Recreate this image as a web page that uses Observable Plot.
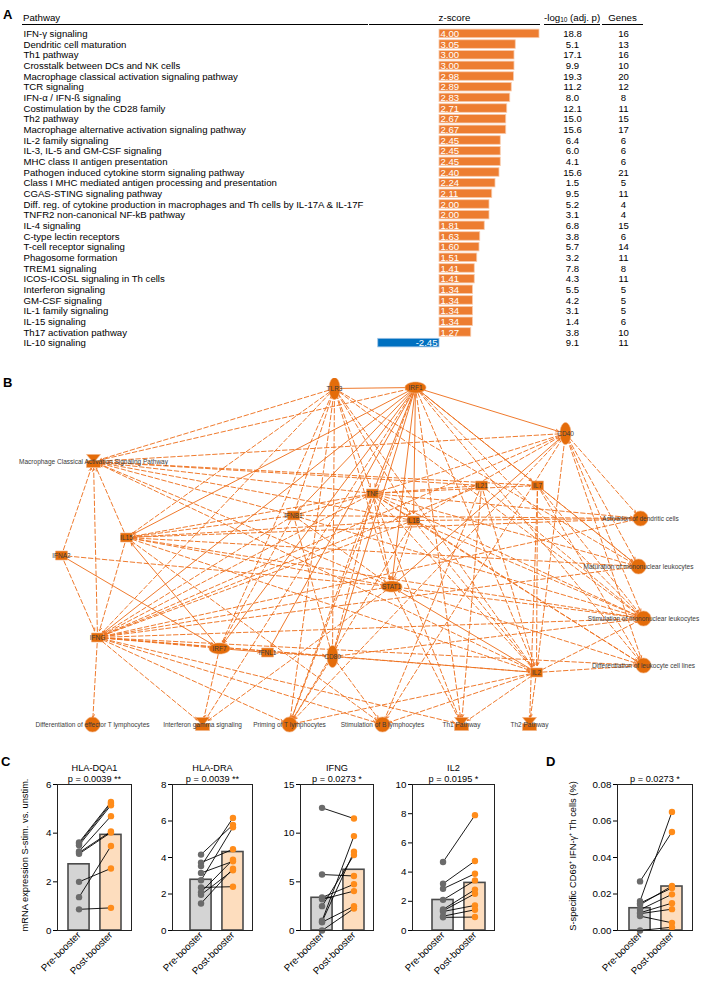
<!DOCTYPE html>
<html><head><meta charset="utf-8">
<script src="https://cdn.jsdelivr.net/npm/d3@7"></script>
<script src="https://cdn.jsdelivr.net/npm/@observablehq/plot@0.6"></script>
<style>
body{margin:0;background:#fff;font-family:"Liberation Sans",Arial,sans-serif;}
#root{position:relative;width:701px;height:990px;overflow:hidden;background:#fff;}
.plabel{position:absolute;font-weight:bold;font-size:13px;line-height:13px;}
.hdr{position:absolute;top:12px;height:12px;line-height:12px;font-size:9.7px;border-bottom:1.3px solid #000;white-space:nowrap;}
.hdr sub{font-size:6.5px;vertical-align:-1px;line-height:0;}
.ylab{position:absolute;white-space:nowrap;font-size:9.3px;transform:translate(-50%,-50%) rotate(-90deg);}
</style></head><body><div id="root"></div><script>
// ---------- Panel A data ----------
const pathways = ["IFN-γ signaling","Dendritic cell maturation","Th1 pathway","Crosstalk between DCs and NK cells","Macrophage classical activation signaling pathway","TCR signaling","IFN-α / IFN-ß signaling","Costimulation by the CD28 family","Th2 pathway","Macrophage alternative activation signaling pathway","IL-2 family signaling","IL-3, IL-5 and GM-CSF signaling","MHC class II antigen presentation","Pathogen induced cytokine storm signaling pathway","Class I MHC mediated antigen processing and presentation","CGAS-STING signaling pathway","Diff. reg. of cytokine production in macrophages and Th cells by IL-17A & IL-17F","TNFR2 non-canonical NF-kB pathway","IL-4 signaling","C-type lectin receptors","T-cell receptor signaling","Phagosome formation","TREM1 signaling","ICOS-ICOSL signaling in Th cells","Interferon signaling","GM-CSF signaling","IL-1 family signaling","IL-15 signaling","Th17 activation pathway","IL-10 signaling"];
const zScores = [4.00,3.05,3.00,3.00,2.98,2.89,2.83,2.71,2.67,2.67,2.45,2.45,2.45,2.40,2.24,2.11,2.00,2.00,1.81,1.63,1.60,1.51,1.41,1.41,1.34,1.34,1.34,1.34,1.27,-2.45];
const negLog10P = [18.8,5.1,17.1,9.9,19.3,11.2,8.0,12.1,15.0,15.6,6.4,6.0,4.1,15.6,1.5,9.5,5.2,3.1,6.8,3.8,5.7,3.2,7.8,4.3,5.5,4.2,3.1,1.4,3.8,9.1];
const geneCounts = [16,13,16,10,20,12,8,11,15,17,6,6,6,21,5,11,4,4,15,6,14,11,8,11,5,5,5,6,10,11];
const tableHeaders = ["Pathway","z-score","-log<sub>10</sub> (adj. p)","Genes"];

// ---------- Panel B data (network layout) ----------
const nodeIds = ["TLR3","IRF1","CD40","MacPath","IL15","IFNA2","IFNB1","TNF","IL21","IL7","IL1B","STAT1","IFNG","IRF7","IFNL1","CD80","IL2","ActDC","MatMono","StimMono","DiffLeuk","Th2","Th1","StimB","PrimT","IFNgSig","DiffEffT"];
const nodeLabels = ["TLR3","IRF1","CD40","Macrophage Classical Activation Signaling Pathway","IL15","IFNA2","IFNB1","TNF","IL21","IL7","IL1B","STAT1","IFNG","IRF7","IFNL1","CD80","IL2","Activation of dendritic cells","Maturation of mononuclear leukocytes","Stimulation of mononuclear leukocytes","Differentiation of leukocyte cell lines","Th2 Pathway","Th1 Pathway","Stimulation of B lymphocytes","Priming of T lymphocytes","Interferon gamma signaling","Differentiation of effector T lymphocytes"];
const nodeX = [334,415,565,93,126,61,293,372,481,537,413,391,97,219,267,332,536,640,638,643,643,529,461,382,289,202,92];
const nodeY = [9,8,54,82,158,176,136,114,106,106,141,207,258,269,273,277,293,139,187,239,286,345,345,345,345,345,345];
const nodeKinds = ["vEll","hEll","vEll","path","sq","sq","sq","sq","sq","sq","sq","hEll","sq","hEll","sq","vEll","sq","fn","fn","fn","fn","path","path","fn","fn","path","fn"];
const solidLinks = [["TLR3","IRF1"],["IRF1","CD40"],["IRF1","IL7"],["IRF1","IL1B"],["IRF1","TNF"],["IRF1","IFNB1"],["IRF1","IL15"],["IRF1","STAT1"],["IRF1","IRF7"],["IRF1","IFNL1"],["IRF1","CD80"],["IRF1","IFNG"],["IRF7","IFNL1"],["IFNA2","IRF7"],["IRF7","IL15"],["STAT1","CD40"],["IL2","STAT1"]];
const dashedLinks = [
 ["TLR3","MacPath"],["TLR3","IFNB1"],["TLR3","TNF"],["TLR3","STAT1"],["TLR3","CD80"],["TLR3","IRF7"],["TLR3","IFNG"],["TLR3","IL15"],["TLR3","IL1B"],["TLR3","MatMono"],["TLR3","StimMono"],["TLR3","PrimT"],["TLR3","IL2"],
 ["IRF1","MatMono"],["IRF1","StimMono"],["IRF1","DiffLeuk"],["IRF1","IL2"],["IRF1","Th1"],["IRF1","PrimT"],["IRF1","IFNgSig"],["IRF1","MacPath"],
 ["CD40","ActDC"],["CD40","MatMono"],["CD40","StimMono"],["CD40","DiffLeuk"],["CD40","IL2"],["CD40","MacPath"],["CD40","IFNG"],["CD40","TNF"],["CD40","StimB"],["CD40","PrimT"],["CD40","IL1B"],
 ["IFNA2","MacPath"],["IFNA2","STAT1"],["IFNA2","IFNG"],
 ["IL15","MacPath"],["IL15","IFNG"],["IL15","ActDC"],["IL15","MatMono"],["IL15","StimMono"],["IL15","IL2"],["IL15","StimB"],["IL15","STAT1"],
 ["IFNB1","IL15"],["IFNB1","IFNG"],["IFNB1","MacPath"],["IFNB1","STAT1"],["IFNB1","StimMono"],["IFNB1","ActDC"],["IFNB1","IRF7"],["IFNB1","CD80"],
 ["TNF","IL21"],["TNF","IL7"],["TNF","IL1B"],["TNF","STAT1"],["TNF","IFNB1"],["TNF","IL15"],["TNF","IFNG"],["TNF","MacPath"],["TNF","ActDC"],["TNF","MatMono"],["TNF","StimMono"],["TNF","DiffLeuk"],["TNF","CD80"],["TNF","IL2"],["TNF","Th1"],["TNF","PrimT"],
 ["IL21","MacPath"],["IL21","IFNG"],["IL21","StimMono"],["IL21","StimB"],["IL21","Th1"],["IL21","IL2"],
 ["IL7","MacPath"],["IL7","StimMono"],["IL7","DiffLeuk"],["IL7","MatMono"],["IL7","IL2"],["IL7","Th2"],
 ["IL1B","ActDC"],["IL1B","MacPath"],["IL1B","IL15"],["IL1B","IFNG"],["IL1B","STAT1"],["IL1B","StimMono"],["IL1B","IL2"],["IL1B","PrimT"],["IL1B","DiffLeuk"],
 ["STAT1","MacPath"],["STAT1","IFNgSig"],["STAT1","Th1"],["STAT1","StimMono"],["STAT1","DiffLeuk"],
 ["IFNG","MacPath"],["IFNG","DiffEffT"],["IFNG","IFNgSig"],["IFNG","PrimT"],["IFNG","IRF7"],["IFNG","STAT1"],["IFNG","ActDC"],["IFNG","StimMono"],["IFNG","DiffLeuk"],["IFNG","Th1"],["IFNG","IL2"],["IFNG","MatMono"],["IFNG","CD80"],["IFNG","StimB"],
 ["IRF7","IFNgSig"],["IFNL1","CD80"],
 ["CD80","PrimT"],["CD80","StimMono"],["CD80","IL2"],["CD80","StimB"],
 ["IL2","DiffLeuk"],["IL2","Th2"],["IL2","Th1"],["IL2","StimB"],["IL2","MacPath"],["IL2","PrimT"],["IL2","StimMono"]
];

// ---------- Panel C / D data ----------
const groups = ["Pre-booster","Post-booster"];
const dqa1Pre = [3.62,3.57,3.50,3.25,3.20,3.15,2.00,1.37,0.87];
const dqa1Post = [5.28,5.22,5.15,4.70,4.07,4.03,2.55,3.47,0.93];
const dqa1Means = [2.72,3.93];
const draPre = [4.16,3.72,3.53,3.15,2.75,2.36,2.10,1.96,1.48];
const draPost = [5.79,4.45,6.17,3.79,5.66,2.40,3.88,3.30,3.39];
const draMeans = [2.78,4.30];
const ifngPre = [12.6,5.75,3.40,3.20,2.50,1.00,0.90,0.85,0.00];
const ifngPost = [11.5,5.60,4.75,4.05,7.75,9.70,8.10,2.50,2.25];
const ifngMeans = [3.36,6.24];
const il2Pre = [4.69,3.20,2.86,2.10,1.44,1.35,1.30,0.98,0.90];
const il2Post = [7.90,4.76,3.89,3.43,2.80,2.52,1.72,1.42,0.92];
const il2Means = [2.09,3.26];
const cd69Pre = [0.0269,0.0161,0.0150,0.0141,0.0114,0.0097,0.0092,0.0079,0.0000];
const cd69Post = [0.0540,0.0650,0.0233,0.0244,0.0198,0.0150,0.0117,0.0042,0.0018];
const cd69Means = [0.0122,0.0241];
const panelTitles = ["HLA-DQA1","HLA-DRA","IFNG","IL2",null];
const pValues = ["p = 0.0039 **","p = 0.0039 **","p = 0.0273 *","p = 0.0195 *","p = 0.0273 *"];
const yMaxes = [6,8,15,10,0.08];
const yTicks = [[0,2,4,6],[0,2,4,6,8],[0,5,10,15],[0,2,4,6,8,10],[0,0.02,0.04,0.06,0.08]];

// ---------- helpers ----------
const FONT = "Liberation Sans, Arial, sans-serif";
const root = document.getElementById("root");
function place(el, left, top){ el.style.position="absolute"; el.style.left=left+"px"; el.style.top=top+"px"; root.appendChild(el); return el; }
function div(cls, html, left, top){ const d=document.createElement("div"); d.className=cls; d.innerHTML=html; return place(d,left,top); }

// ---------- Panel A ----------
const rows = pathways.map((p,i)=>({pathway:p, z:zScores[i], p:negLog10P[i], genes:geneCounts[i]}));
const pos = rows.filter(d=>d.z>=0), neg = rows.filter(d=>d.z<0);
const plotA = Plot.plot({
  width:701, height:353, marginTop:27, marginBottom:4, marginLeft:370, marginRight:161,
  style:{fontFamily:FONT, fontSize:"9.6px", background:"transparent", color:"#000"},
  x:{domain:[-2.76,4.04], axis:null},
  y:{domain:pathways, axis:null, padding:0.2, round:false},
  marks:[
    Plot.barX(pos,{x:"z", y:"pathway", fill:"#ED7D31", stroke:"#F8CBAD", strokeWidth:0.8}),
    Plot.barX(neg,{x:"z", y:"pathway", fill:"#0070C0", stroke:"#9DC3E6", strokeWidth:0.8}),
    Plot.text(pos,{x:()=>0, y:"pathway", text:d=>d.z.toFixed(2), textAnchor:"start", dx:1, fill:"#fff"}),
    Plot.text(neg,{x:()=>0, y:"pathway", text:d=>d.z.toFixed(2), textAnchor:"end", dx:-2, fill:"#fff"}),
    Plot.text(rows,{y:"pathway", text:"pathway", frameAnchor:"left", textAnchor:"start", dx:-347}),
    Plot.text(rows,{y:"pathway", text:d=>d.p.toFixed(1), frameAnchor:"right", textAnchor:"middle", dx:32}),
    Plot.text(rows,{y:"pathway", text:d=>String(d.genes), frameAnchor:"right", textAnchor:"middle", dx:83})
  ]
});
place(plotA,0,0);
const hdrBoxes = [[22,345,"left"],[369,171,"center"],[544,56,"center"],[602,41,"center"]];
tableHeaders.forEach((h,i)=>{ const d=div("hdr",h,hdrBoxes[i][0],12); d.style.width=hdrBoxes[i][1]+"px"; d.style.textAlign=hdrBoxes[i][2]; if(i===0) d.style.paddingLeft="1px"; });
div("plabel","A",3,8);

// ---------- Panel B ----------
function ell(rx,ry){ const k=0.5523; return {draw(c){ c.moveTo(rx,0); c.bezierCurveTo(rx,ry*k,rx*k,ry,0,ry); c.bezierCurveTo(-rx*k,ry,-rx,ry*k,-rx,0); c.bezierCurveTo(-rx,-ry*k,-rx*k,-ry,0,-ry); c.bezierCurveTo(rx*k,-ry,rx,-ry*k,rx,0); c.closePath(); }}; }
const symbols = {
  sq:{draw(c){ c.rect(-6,-4.5,12,9); }},
  hEll:ell(10.5,5.5), vEll:ell(5.5,11), fn:ell(7.5,7.5),
  path:{draw(c){ c.moveTo(-7,-7); c.lineTo(7,-7); c.lineTo(2,-1); c.lineTo(7,-1); c.lineTo(7,6); c.lineTo(-7,6); c.lineTo(-7,-1); c.lineTo(-2,-1); c.closePath(); }}
};
const nodes = nodeIds.map((id,i)=>({id, label:nodeLabels[i], x:nodeX[i], y:nodeY[i], kind:nodeKinds[i]}));
const byId = Object.fromEntries(nodes.map(n=>[n.id,n]));
const edgeOpts = {x1:d=>byId[d[0]].x, y1:d=>byId[d[0]].y, x2:d=>byId[d[1]].x, y2:d=>byId[d[1]].y, stroke:"#EE7322", strokeWidth:0.95, headLength:5, headAngle:50, insetStart:6, insetEnd:7};
const nodeMarks = Object.keys(symbols).map(k=>Plot.dot(nodes.filter(n=>n.kind===k),{x:"x", y:"y", symbol:symbols[k], r:5, fill:"#E46C0A", stroke:"#F4B183", strokeWidth:0.6}));
const plotB = Plot.plot({
  width:701, height:356, margin:0,
  style:{fontFamily:FONT, background:"transparent"},
  x:{domain:[0,701], range:[0,701], axis:null},
  y:{domain:[-1,355], range:[0,356], axis:null},
  marks:[
    Plot.arrow(dashedLinks,{...edgeOpts, strokeDasharray:"4.5,2.5"}),
    Plot.arrow(solidLinks,{...edgeOpts}),
    ...nodeMarks,
    Plot.text(nodes,{x:"x", y:"y", text:"label", fontSize:6.5, fill:"#3a3a3a"})
  ]
});
place(plotB,0,378);
div("plabel","B",3,376);

// ---------- Panels C & D ----------
const chartData = [[dqa1Pre,dqa1Post,dqa1Means],[draPre,draPost,draMeans],[ifngPre,ifngPost,ifngMeans],[il2Pre,il2Post,il2Means],[cd69Pre,cd69Post,cd69Means]];
const chartBoxes = [{axis:57,right:131,bar1:68},{axis:172,right:252,bar1:190},{axis:300,right:373,bar1:311},{axis:412,right:494,bar1:432},{axis:617,right:692,bar1:629}];
chartData.forEach(([pre,post,means],i)=>{
  const box = chartBoxes[i];
  const ml=34, mr=6, mt=34, mb=58;
  const width = ml + (box.right-box.axis) + mr;
  const left = box.axis - ml;
  const b0 = box.bar1 - left;
  const pairs = pre.map((v,j)=>({pre:v, post:post[j]}));
  const prePts = pre.map(v=>({g:groups[0], v})), postPts = post.map(v=>({g:groups[1], v}));
  const marks = [
    Plot.barY([{g:groups[0], v:means[0]}],{x:"g", y:"v", fill:"#D4D4D4", stroke:"#4a4a4a", strokeWidth:1.6}),
    Plot.barY([{g:groups[1], v:means[1]}],{x:"g", y:"v", fill:"#FDDDBE", stroke:"#4a4a4a", strokeWidth:1.6}),
    Plot.link(pairs,{x1:()=>groups[0], x2:()=>groups[1], y1:"pre", y2:"post", stroke:"#000", strokeWidth:0.9}),
    Plot.dot(prePts,{x:"g", y:"v", r:3.2, fill:"#6b6b6b"}),
    Plot.dot(postPts,{x:"g", y:"v", r:3.2, fill:"#FF8C1A"}),
    Plot.frame({stroke:"#222", strokeWidth:1}),
    Plot.text([pValues[i]],{frameAnchor:"top", dy:-9, text:d=>d, fontSize:9.2})
  ];
  if (panelTitles[i]) marks.push(Plot.text([panelTitles[i]],{frameAnchor:"top", dy:-20.5, text:d=>d, fontSize:9.2}));
  const svg = Plot.plot({
    width, height:238, marginLeft:ml, marginRight:mr, marginTop:mt, marginBottom:mb,
    style:{fontFamily:FONT, fontSize:"9.8px", background:"transparent", color:"#000"},
    x:{domain:groups, range:[b0,b0+53], paddingInner:0.34, paddingOuter:0, round:false, tickRotate:-45, tickSize:0, tickPadding:3, label:null},
    y:{domain:[0,yMaxes[i]], ticks:yTicks[i], tickSize:4, tickPadding:2, tickFormat: i===4 ? d3.format(".2f") : d3.format("d"), label:null},
    marks
  });
  place(svg,left,750);
});
div("ylab","mRNA expression S-stim. vs. unstim.",25,855);
div("ylab","S-specific CD69⁺ IFN-γ⁺ Th cells (%)",572,856);
div("plabel","C",1,755);
div("plabel","D",546,755);
</script></body></html>
